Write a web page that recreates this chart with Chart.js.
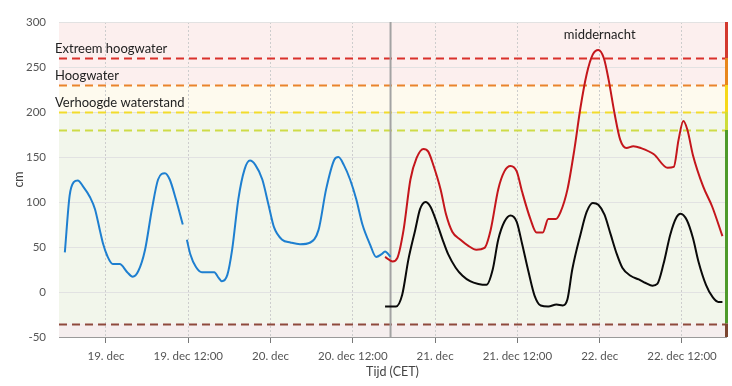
<!DOCTYPE html>
<html>
<head>
<meta charset="utf-8">
<script src="https://cdn.jsdelivr.net/npm/chart.js@4.4.0/dist/chart.umd.min.js"></script>
<style>
  html, body { margin: 0; padding: 0; background: #fff; }
</style>
</head>
<body>
<canvas id="waterChart" width="732" height="386"></canvas>
<script>
// uren vanaf 19 dec 00:00 (CET)
const measuredHours = [-6.0, -5.3, -4.7, -4.1, -3.4, -2.3, -1.6, -0.9, -0.4, 0.2, 1.0, 2.0, 3.1, 3.9, 4.7, 5.7, 6.7, 7.6, 8.6, 9.3, 10.2, 11.2, 11.5, 11.8, 12.3, 13.1, 14.0, 14.9, 15.8, 16.4, 16.9, 17.7, 18.4, 19.3, 20.2, 21.0, 21.8, 22.8, 23.7, 24.5, 25.7, 26.9, 28.3, 29.8, 31.0, 32.1, 33.3, 33.9, 34.7, 35.6, 36.5, 37.4, 38.5, 39.4, 40.2, 40.7, 41.5];
const measuredLevels = [44, 107, 122, 124, 118, 105, 92, 69, 53, 40, 31, 31, 22, 17, 23, 47, 92, 125, 132, 125, 103, 75, null, 58, 42, 28, 22, 22, 22, 16, 12, 19, 47, 103, 136, 146, 141, 125, 97, 72, 58, 55, 53, 55, 69, 114, 147, 150, 141, 125, 103, 75, 53, 39, 42, 45, 39];

const forecastHighHours = [40.7, 41.8, 42.5, 43.4, 44.4, 45.3, 46.3, 47.0, 47.7, 48.8, 49.6, 50.5, 51.7, 52.9, 54.0, 55.2, 56.1, 57.2, 58.1, 59.0, 59.9, 60.7, 61.9, 62.8, 63.7, 64.5, 65.6, 66.3, 67.3, 68.3, 69.2, 70.1, 71.0, 71.8, 72.6, 73.3, 74.2, 75.0, 75.9, 76.9, 78.0, 79.9, 81.9, 82.8, 83.5, 84.2, 84.8, 85.6, 87.1, 88.4, 89.9];
const forecastHigh = [39, 34, 38, 69, 125, 149, 159, 156, 142, 114, 86, 67, 58, 51, 47, 49, 69, 114, 134, 140, 134, 111, 81, 66, 66, 81, 81, 89, 114, 158, 205, 242, 264, 269, 260, 236, 197, 169, 160, 162, 160, 153, 138, 139, 169, 190, 180, 152, 117, 95, 62];

const forecastHours = [40.7, 42.3, 43.2, 44.1, 45.1, 45.8, 46.6, 47.3, 48.2, 49.1, 49.9, 51.0, 52.0, 53.1, 54.3, 55.5, 56.4, 57.2, 58.1, 59.0, 59.9, 60.7, 61.6, 62.5, 63.4, 64.5, 65.7, 66.6, 67.3, 68.0, 69.2, 70.1, 71.0, 71.8, 72.7, 73.6, 74.5, 75.3, 76.5, 77.7, 78.7, 79.7, 80.4, 81.3, 82.3, 83.2, 83.8, 84.7, 85.6, 86.4, 87.5, 88.5, 89.3, 89.9];
const forecast = [-16, -16, -3, 36, 69, 92, 100, 95, 78, 58, 42, 27, 18, 12, 9, 8, 25, 58, 78, 85, 78, 53, 23, -4, -15, -16, -14, -15, -8, 25, 64, 89, 99, 97, 86, 64, 42, 27, 18, 14, 10, 7, 9, 31, 64, 83, 87, 80, 60, 34, 8, -6, -11, -11];

const tickHours = [0, 12, 24, 36, 48, 60, 72, 84];
const tickLabels = ['19. dec', '19. dec 12:00', '20. dec', '20. dec 12:00', '21. dec', '21. dec 12:00', '22. dec', '22. dec 12:00'];

const thresholdValues = [260, 230, 200, 180, -35];
const thresholdNames = ['Extreem hoogwater', 'Hoogwater', 'Verhoogde waterstand', '', ''];
const nowHour = 41.5;
const midnightHour = 72;

const thresholdColors = ['#d9312b', '#e9842c', '#f1db2c', '#cedb48', '#8e4a3c'];

const toPoints = (xs, ys) => xs.map((x, i) => ({ x: x, y: ys[i] }));

const backgroundBands = {
  id: 'backgroundBands',
  beforeDraw(chart) {
    const { ctx, chartArea: a, scales: { y } } = chart;
    const bands = [
      [300, 230, '#fcefee'],
      [230, 200, '#fefaee'],
      [200, -35, '#f2f6eb'],
      [-35, -50, '#f5eeee'],
    ];
    ctx.save();
    bands.forEach(([top, bottom, color]) => {
      const y1 = y.getPixelForValue(top);
      const y2 = y.getPixelForValue(bottom);
      ctx.fillStyle = color;
      ctx.fillRect(a.left, y1, a.right - a.left, y2 - y1);
    });
    ctx.restore();
  }
};

const waterMarks = {
  id: 'waterMarks',
  beforeDatasetsDraw(chart) {
    const { ctx, chartArea: a, scales: { x, y } } = chart;
    ctx.save();

    // drempellijnen
    ctx.lineWidth = 2;
    ctx.setLineDash([8, 5]);
    thresholdValues.forEach((v, i) => {
      const py = Math.round(y.getPixelForValue(v)) + 0.5;
      ctx.strokeStyle = thresholdColors[i];
      ctx.beginPath();
      ctx.moveTo(a.left, py);
      ctx.lineTo(a.right, py);
      ctx.stroke();
    });
    ctx.setLineDash([]);

    // labels
    ctx.font = "13px Lato, sans-serif";
    ctx.fillStyle = '#222';
    ctx.textAlign = 'left';
    ctx.textBaseline = 'middle';
    thresholdValues.forEach((v, i) => {
      if (thresholdNames[i]) {
        ctx.fillText(thresholdNames[i], a.left - 4, y.getPixelForValue(v) - 9);
      }
    });
    ctx.textAlign = 'center';
    ctx.fillText('middernacht', x.getPixelForValue(midnightHour), a.top + 13);

    // nu-lijn
    const nx = x.getPixelForValue(nowHour);
    ctx.strokeStyle = '#a3a3a3';
    ctx.lineWidth = 2;
    ctx.beginPath();
    ctx.moveTo(nx, a.top);
    ctx.lineTo(nx, a.bottom);
    ctx.stroke();

    // kleurbalk rechts
    const segs = [
      [300, 260, '#d3392e'],
      [260, 230, '#e8861c'],
      [230, 200, '#f6d81a'],
      [200, 180, '#cddc3a'],
      [180, -35, '#4e9a2a'],
      [-35, -50, '#7b4530'],
    ];
    segs.forEach(([top, bottom, color]) => {
      const y1 = y.getPixelForValue(top);
      const y2 = y.getPixelForValue(bottom);
      ctx.fillStyle = color;
      ctx.fillRect(a.right - 1, y1, 3, y2 - y1);
    });
    ctx.restore();
  }
};

Chart.defaults.font.family = "Lato, sans-serif";
Chart.defaults.color = '#555';

const ctx = document.getElementById('waterChart').getContext('2d');
new Chart(ctx, {
  type: 'line',
  data: {
    datasets: [
      {
        label: 'Gemeten',
        data: toPoints(measuredHours, measuredLevels),
        borderColor: '#1e7fd0',
        borderWidth: 2,
        pointRadius: 0,
        cubicInterpolationMode: 'monotone',
        spanGaps: false,
      },
      {
        label: 'Verwachting',
        data: toPoints(forecastHours, forecast),
        borderColor: '#0a0a0a',
        borderWidth: 2,
        pointRadius: 0,
        cubicInterpolationMode: 'monotone',
      },
      {
        label: 'Verwachting hoog',
        data: toPoints(forecastHighHours, forecastHigh),
        borderColor: '#c4161c',
        borderWidth: 2,
        pointRadius: 0,
        cubicInterpolationMode: 'monotone',
      },
    ]
  },
  options: {
    responsive: false,
    animation: false,
    layout: { padding: { top: 22, right: 6, left: 0, bottom: 0 } },
    plugins: {
      legend: { display: false },
      tooltip: { enabled: false },
    },
    scales: {
      x: {
        type: 'linear',
        min: -6.85,
        max: 90.42,
        afterFit: (scale) => { scale.height = 49; },
        afterBuildTicks: (scale) => { scale.ticks = tickHours.map(v => ({ value: v })); },
        ticks: {
          autoSkip: false,
          maxRotation: 0,
          padding: 6,
          font: { size: 11.5 },
          color: '#555',
          callback: (value) => tickLabels[tickHours.indexOf(value)],
        },
        grid: {
          color: '#cdcdcd',
          tickColor: '#777',
          tickLength: 6,
          tickBorderDash: [],
        },
        border: { color: '#9a9a9a', dash: [2, 2] },
        title: {
          display: true,
          text: 'Tijd (CET)',
          color: '#444',
          font: { size: 12.5 },
          padding: { top: 0, bottom: 7 },
        },
      },
      y: {
        min: -50,
        max: 300,
        afterFit: (scale) => { scale.width = 59; },
        ticks: {
          stepSize: 50,
          padding: 13,
          font: { size: 11.5 },
          color: '#555',
        },
        grid: { color: '#e2e2e2', drawTicks: false },
        border: { display: false },
        title: {
          display: true,
          text: 'cm',
          color: '#444',
          font: { size: 12.5 },
          padding: { top: 11, bottom: 0 },
        },
      },
    },
  },
  plugins: [backgroundBands, waterMarks],
});
</script>
</body>
</html>
